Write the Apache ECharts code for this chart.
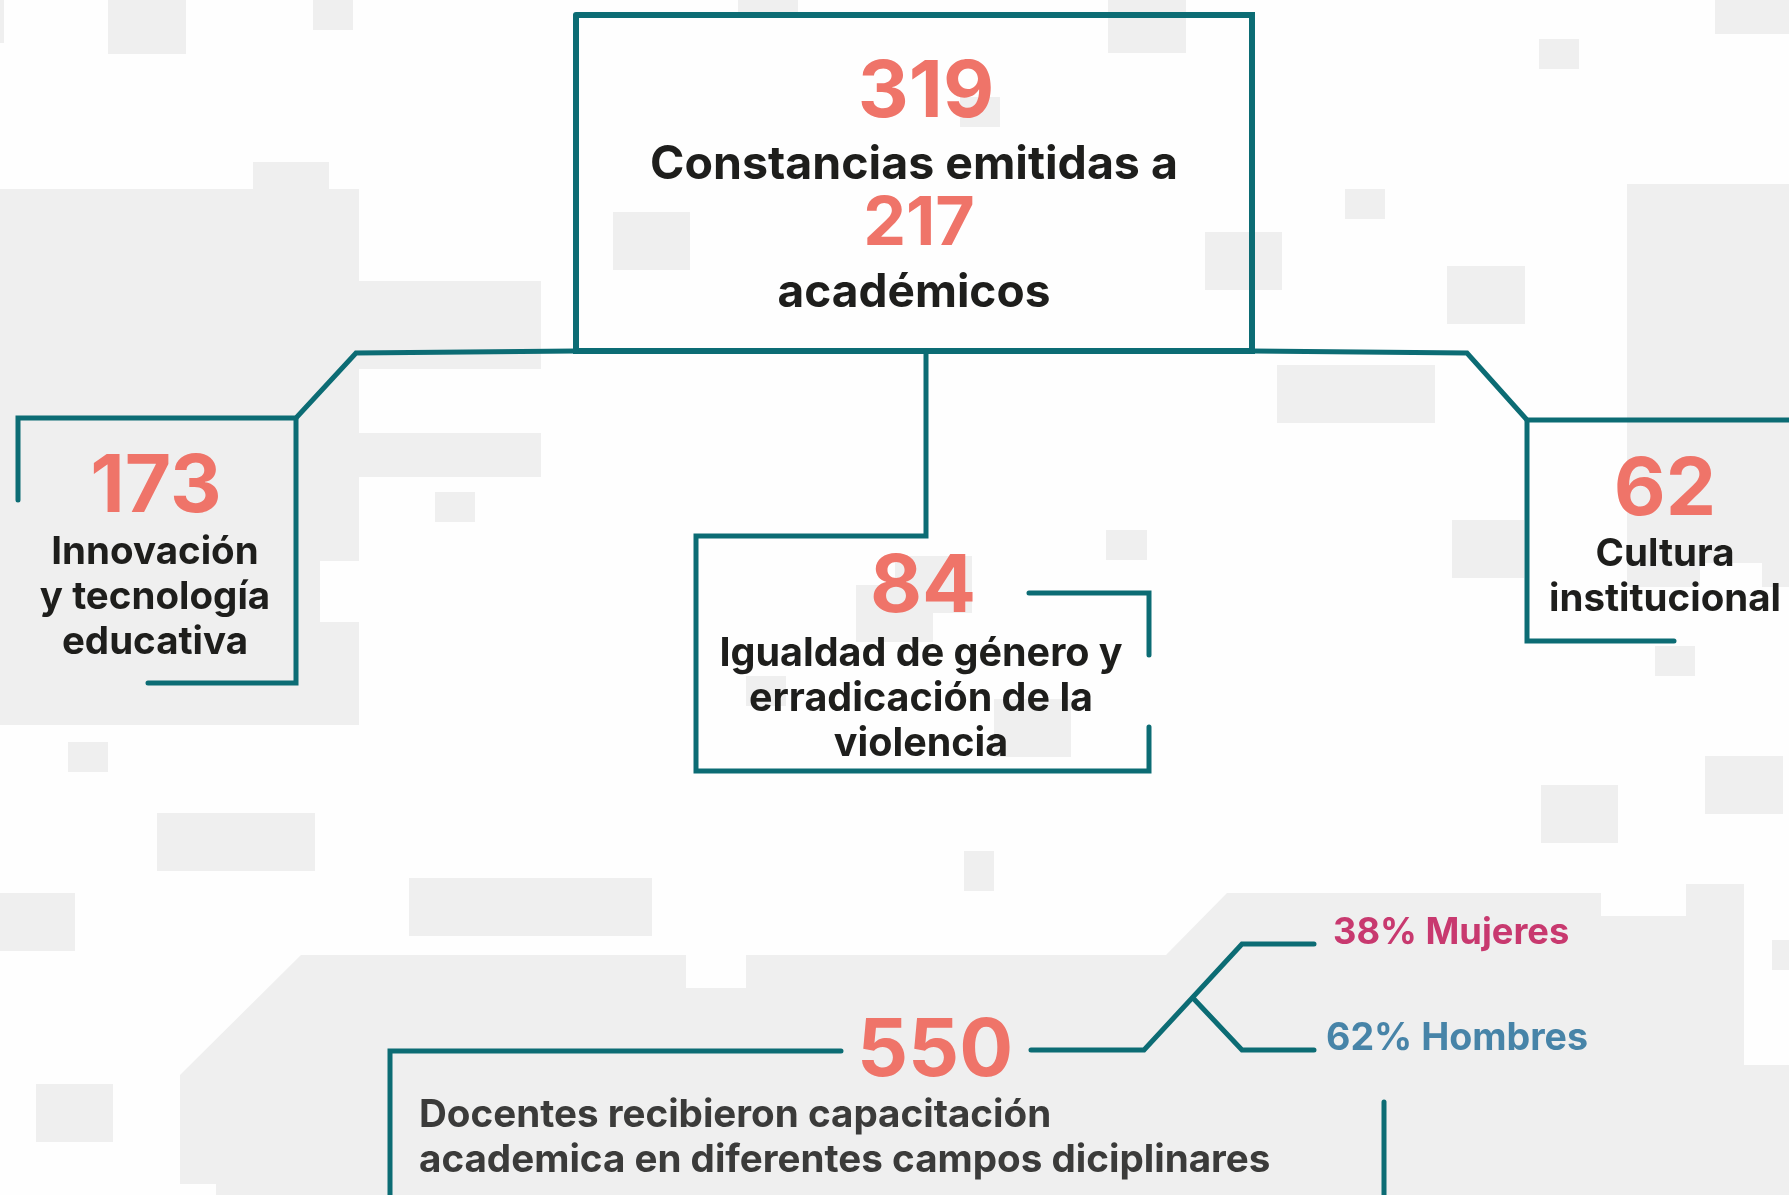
<!DOCTYPE html>
<html>
<head>
    <meta charset="UTF-8">
    <title>Constancias y capacitación</title>
    <script src="https://cdn.jsdelivr.net/npm/echarts@6/dist/echarts.min.js"></script>
    <style>
        body { margin: 0; padding: 0; border: none; background: #fefefe; }
        #echart { width: 1789px; height: 1195px; }
    </style>
</head>
<body>
<div id="echart"></div>
<script>
    // values read from the infographic
    const certificates = [319];
    const academics = [217];
    const areaNames = ['Innovación\ny tecnología\neducativa', 'Igualdad de género y\nerradicación de la\nviolencia', 'Cultura\ninstitucional'];
    const areaCounts = [173, 84, 62];
    const teachers = [550];
    const teacherText = ['Docentes recibieron capacitación', 'academica en diferentes campos diciplinares'];
    const genderNames = ['Mujeres', 'Hombres'];
    const genderPct = [38, 62];

    const TEAL = '#0c6c74', CORAL = '#ef7469', INK = '#1e1e1c', GREY = '#efefef';
    const FONT = 'Inter, "Noto Sans", sans-serif';

    // decorative background blocks
    const blocks = [
        [0, 0, 4, 43], [108, 0, 78, 54], [313, 0, 40, 30], [738, 0, 60, 14], [1108, 0, 78, 53],
        [960, 97, 40, 30], [1539, 39, 40, 30], [1715, 0, 74, 34], [1345, 189, 40, 30],
        [1447, 266, 78, 58], [1205, 232, 77, 58], [613, 212, 77, 58],
        [1627, 184, 162, 379], [1627, 563, 73, 24], [1762, 563, 27, 24],
        [1277, 365, 158, 58], [1452, 520, 72, 58], [1106, 530, 41, 30], [994, 699, 77, 58],
        [1655, 646, 40, 30], [856, 585, 77, 57], [895, 556, 77, 57], [746, 676, 40, 30],
        [435, 492, 40, 30], [68, 742, 40, 30], [157, 813, 158, 58], [0, 893, 75, 58],
        [409, 878, 243, 58], [36, 1084, 77, 58], [964, 851, 30, 40], [1541, 785, 77, 58],
        [1705, 756, 78, 58], [1772, 940, 17, 30]
    ];
    const leftShape = [[0, 189], [253, 189], [253, 162], [329, 162], [329, 189], [359, 189], [359, 281],
        [541, 281], [541, 369], [359, 369], [359, 433], [541, 433], [541, 477], [359, 477], [359, 561],
        [320, 561], [320, 622], [359, 622], [359, 725], [0, 725]];
    const bottomShape = [[301, 955], [686, 955], [686, 988], [746, 988], [746, 955], [1166, 955],
        [1227, 893], [1601, 893], [1601, 916], [1686, 916], [1686, 884], [1744, 884], [1744, 1065],
        [1789, 1065], [1789, 1195], [216, 1195], [216, 1184], [180, 1184], [180, 1075]];

    // connector strokes
    const strokes = [
        [[576, 15], [1252, 15], [1252, 351], [576, 351], [576, 15]],
        [[576, 351], [356, 353], [296, 418], [18, 418], [18, 500]],
        [[296, 418], [296, 683], [148, 683]],
        [[1252, 351], [1467, 353], [1527, 420], [1789, 420]],
        [[1527, 420], [1527, 641], [1674, 641]],
        [[926, 351], [926, 536], [696, 536], [696, 771], [1149, 771], [1149, 727]],
        [[1029, 593], [1149, 593], [1149, 655]],
        [[841, 1051], [390, 1051], [390, 1200]],
        [[1031, 1050], [1144, 1050], [1242, 944], [1314, 944]],
        [[1193, 998], [1242, 1050], [1314, 1050]],
        [[1384, 1102], [1384, 1200]]
    ];

    function txt(text, x, y, size, color, opts) {
        return {
            type: 'text', z: 10,
            style: Object.assign({
                text: text, x: x, y: y, fill: color,
                font: 'bold ' + size + 'px ' + FONT,
                align: 'center', verticalAlign: 'middle'
            }, opts || {})
        };
    }

    window.onload = function () {
        const ec = echarts.init(document.getElementById('echart'), null, {renderer: 'canvas'});
        const els = [];
        blocks.forEach(b => els.push({type: 'rect', z: 1, shape: {x: b[0], y: b[1], width: b[2], height: b[3]}, style: {fill: GREY}}));
        els.push({type: 'polygon', z: 1, shape: {points: leftShape}, style: {fill: GREY}});
        els.push({type: 'polygon', z: 1, shape: {points: bottomShape}, style: {fill: GREY}});
        strokes.forEach((p, i) => els.push({
            type: 'polyline', z: 5, shape: {points: p},
            style: {stroke: TEAL, lineWidth: i === 0 ? 6 : 5, fill: null, lineCap: 'round', lineJoin: 'miter'}
        }));

        els.push(txt(String(certificates[0]), 926, 93, 79, CORAL));
        els.push(txt('Constancias emitidas a', 914, 165, 46.5, INK));
        els.push(txt(String(academics[0]), 919, 225, 68, CORAL));
        els.push(txt('académicos', 914, 293, 46, INK));

        const nums = [[156, 488], [923, 588], [1665, 491]];
        const labs = [[155, 597], [921, 699], [1665, 577]];
        const labSize = [38.5, 39.5, 38.5];
        areaCounts.forEach((v, i) => {
            els.push(txt(String(v), nums[i][0], nums[i][1], 80, CORAL));
            els.push(txt(areaNames[i], labs[i][0], labs[i][1], labSize[i], INK, {lineHeight: 45}));
        });

        els.push(txt(String(teachers[0]), 935, 1052, 80, CORAL));
        els.push(txt(teacherText.join('\n'), 419, 1138, 38.6, '#3b3b3a', {align: 'left', lineHeight: 45}));
        els.push(txt(genderPct[0] + '% ' + genderNames[0], 1333, 933, 36.3, '#c8396f', {align: 'left'}));
        els.push(txt(genderPct[1] + '% ' + genderNames[1], 1326, 1039, 37.6, '#4784a8', {align: 'left'}));

        ec.setOption({backgroundColor: '#fefefe', graphic: {elements: els}});
    };
</script>
</body>
</html>
